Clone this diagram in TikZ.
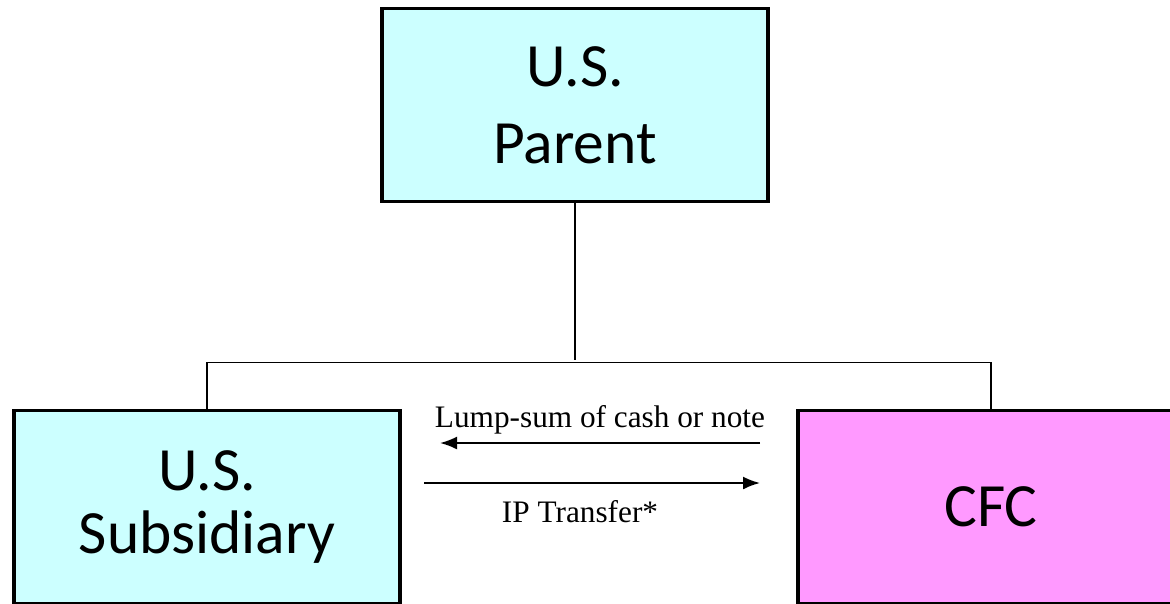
\documentclass[tikz,border=0pt]{standalone}
\usepackage{fontspec}
\setmainfont{Liberation Serif}
\newfontfamily\boxfont{Carlito}
\usetikzlibrary{arrows,arrows.meta,calc,positioning}
\definecolor{entcyan}{HTML}{CCFFFF}
\definecolor{entpink}{HTML}{FF99FF}
\tikzstyle{entity} = [draw, line width=2pt, rectangle, align=center,
    minimum width=386*0.02cm, minimum height=193*0.02cm,
    font=\boxfont\fontsize{35}{44}\selectfont]
\tikzstyle{deal} = [anchor=base, font=\fontsize{17.8}{20}\selectfont]

\begin{document}
\begin{tikzpicture}[x=0.02cm, y=-0.02cm,
    >={Latex[length=17*0.02cm, width=13*0.02cm]}, line width=1pt]
    \useasboundingbox (0,0) rectangle (1170,603);
    \clip (0,0) rectangle (1170,603);
    % We start by placing the entities
    \node [entity, fill=entcyan] (parent) at (575,105) {U.S.\\Parent};
    \node [entity, fill=entcyan] (sub) at (207,507) {U.S.\\[-8.5pt]Subsidiary};
    \node [entity, fill=entpink] (cfc) at (991,507) {CFC};

    % Ownership lines
    \coordinate (stem) at (575,360);
    \draw (parent.south) -- (stem);
    \draw [line width=0.8pt] (sub.north) -- ++(0,-46) -| (cfc.north);

    % Transfers between the two companies
    \coordinate (lumpfrom) at (760,443);
    \coordinate (lumpto) at (440,443);
    \coordinate (ipfrom) at (424,483);
    \coordinate (ipto) at (760,483);
    \draw [->, line width=1.1pt] (lumpfrom) -- (lumpto);
    \draw [->, line width=1.1pt] (ipfrom) -- (ipto);
    \node [deal] (lumplabel) at (600,427) {Lump-sum of cash or note};
    \node [deal] (iplabel) at (580,522) {IP Transfer*};
\end{tikzpicture}
\end{document}
